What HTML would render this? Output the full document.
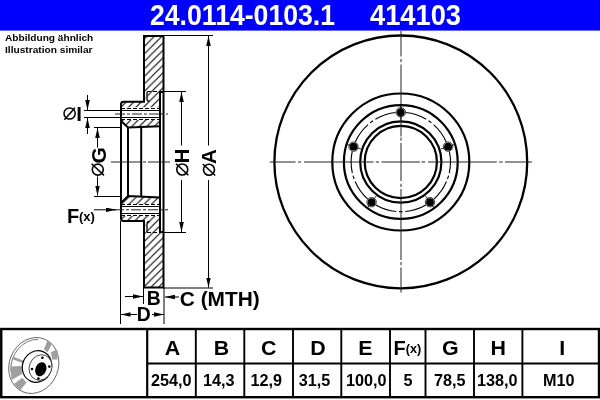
<!DOCTYPE html>
<html><head><meta charset="utf-8">
<style>
html,body{margin:0;padding:0;background:#fff;width:600px;height:400px;overflow:hidden}
svg{position:absolute;left:0;top:0;display:block;will-change:transform}
text{font-family:"Liberation Sans",sans-serif;font-weight:bold;fill:#000}
</style></head><body>
<svg width="600" height="400" viewBox="0 0 600 400">
<defs>
<pattern id="h" patternUnits="userSpaceOnUse" width="7.5" height="7.5" patternTransform="translate(3.25,0)">
<path d="M-1,1 L1,-1 M0,7.5 L7.5,0 M6.5,8.5 L8.5,6.5" stroke="#000" stroke-width="1.1"/>
</pattern>
<marker id="ar" viewBox="0 0 10 4.6" refX="10" refY="2.3" markerWidth="10" markerHeight="4.6" markerUnits="userSpaceOnUse" orient="auto">
<path d="M0,0 L10,2.3 L0,4.6 z" fill="#000"/>
</marker>
</defs>

<!-- header -->
<rect x="0" y="0" width="600" height="30.6" fill="#0000ff"/>
<text x="150" y="25" font-size="29.5" style="fill:#fff" textLength="185" lengthAdjust="spacingAndGlyphs">24.0114-0103.1</text>
<text x="370" y="25" font-size="29.5" style="fill:#fff" textLength="91" lengthAdjust="spacingAndGlyphs">414103</text>

<text x="5" y="41" font-size="9.5" textLength="88.3" lengthAdjust="spacingAndGlyphs">Abbildung ähnlich</text>
<text x="5" y="52.8" font-size="9.5" textLength="87.5" lengthAdjust="spacingAndGlyphs">Illustration similar</text>

<!-- ===== side view ===== -->
<g fill="none" stroke="#000">
<!-- hatched regions -->
<path d="M144,36 H163.5 V92 H160 V107.5 H121 V101.7 H144 Z" fill="url(#h)" stroke="none"/>
<path d="M121,120 H160 V126 L128,127 L121,121 Z" fill="url(#h)" stroke="none"/>
<path d="M121,203 L128,196 L160,197 V204 H121 Z" fill="url(#h)" stroke="none"/>
<path d="M121,216 H160 V232 H163.5 V287.5 H144 V221 H121 Z" fill="url(#h)" stroke="none"/>
<!-- white bands (thread areas) -->
<rect x="121" y="107.5" width="39" height="12.5" fill="#fff" stroke="none"/>
<rect x="121" y="204" width="39" height="12" fill="#fff" stroke="none"/>
<rect x="145.5" y="92.5" width="2" height="8.5" fill="#fff" stroke="none"/>
<rect x="145.5" y="222" width="2" height="9.5" fill="#fff" stroke="none"/>

<!-- thick outlines -->
<g stroke-width="2">
<path d="M144,36 H163.5 V287.5 H144 V221 H123.5 Q121,221 121,218.5 V104.2 Q121,101.7 123.5,101.7 H144 Z"/>
<path d="M160,92 H163.5 M160,92 V232 H163.5"/>
<path d="M121,121 L128,127.5 L160,126.2"/>
<path d="M121,203 L128,196 L160,197.5"/>
<path d="M128,127.5 V196 M141.2,127.5 V196"/>
</g>
<!-- fillet lines -->
<path d="M147,92 V99 Q147,101.2 149.5,101.2" stroke-width="1.3"/>
<path d="M147,232 V224 Q147,221.5 149.5,221.5" stroke-width="1.3"/>
<!-- hidden dashed -->
<g stroke-width="1" stroke-dasharray="4,2">
<path d="M147,91.5 H160 M147,232.5 H160"/>
<path d="M121,108.5 H160 M121,119.5 H160 M121,204.5 H160 M121,215.5 H160"/>
</g>
<!-- thread solid thin -->
<g stroke-width="1">
<path d="M84,110.5 H160 M84,117.5 H160 M121,206.5 H160 M121,213.5 H160"/>
<!-- extension lines -->
<path d="M163.5,35.5 H213 M163.5,288 H213 M163.5,91.5 H186 M163.5,232.5 H186"/>
<path d="M94,127.5 H121 M94,196.5 H121"/>
<path d="M120.5,221 V324 M164,287.5 V324 M143.5,287.5 V304"/>
</g>
<!-- center lines -->
<g stroke-width="1" stroke="#222">
<path d="M115,114 H168" stroke-dasharray="10,2,3,2"/>
<path d="M111,162 H170" stroke-dasharray="30,2,3,2"/>
<path d="M114,209.8 H168" stroke-dasharray="10,2,3,2"/>
</g>
<!-- dimension lines -->
<g stroke-width="1">
<path d="M208.5,145.5 V36" marker-end="url(#ar)"/>
<path d="M208.5,180 V287.5" marker-end="url(#ar)"/>
<path d="M181.5,145.5 V92" marker-end="url(#ar)"/>
<path d="M181.5,180 V232" marker-end="url(#ar)"/>
<path d="M97.5,147.5 V128" marker-end="url(#ar)"/>
<path d="M97.5,176.5 V195.5" marker-end="url(#ar)"/>
<path d="M87.5,95 V110" marker-end="url(#ar)"/>
<path d="M87.5,134 V118" marker-end="url(#ar)"/>
<path d="M94,209.8 H116" marker-end="url(#ar)"/>
<path d="M125,296.5 H143" marker-end="url(#ar)"/>
<path d="M179,297 H165" marker-end="url(#ar)"/>
<path d="M137,314.5 H120.5" marker-end="url(#ar)"/>
<path d="M152,314.5 H164" marker-end="url(#ar)"/>
</g>
</g>

<!-- labels side view -->
<g stroke="#000" fill="none" stroke-width="1.5">
<circle cx="69.6" cy="113.5" r="5.6"/>
<path d="M64.4,119.7 L75,107.8"/>
</g>
<text x="76.3" y="120.6" font-size="20.5">I</text>
<text x="67" y="223" font-size="20">F</text>
<text x="79" y="220.5" font-size="13">(x)</text>
<text x="146.8" y="304.8" font-size="19.5" textLength="14" lengthAdjust="spacingAndGlyphs">B</text>
<text x="136.8" y="320.8" font-size="19.5" textLength="14" lengthAdjust="spacingAndGlyphs">D</text>
<text x="179.8" y="305.6" font-size="19.8" textLength="80" lengthAdjust="spacingAndGlyphs">C (MTH)</text>

<!-- rotated labels -->
<g transform="translate(97.5,175) rotate(-90)">
<circle cx="5.4" cy="0.3" r="5.5" fill="none" stroke="#000" stroke-width="1.6"/>
<path d="M-0.4,6.5 L11.2,-5.9" stroke="#000" stroke-width="1.5"/>
<text x="11.6" y="8" font-size="21">G</text>
</g>
<g transform="translate(181.5,175) rotate(-90)">
<circle cx="5.5" cy="0.75" r="5.5" fill="none" stroke="#000" stroke-width="1.6"/>
<path d="M-0.3,6.95 L11.3,-5.45" stroke="#000" stroke-width="1.5"/>
<text x="11.7" y="7.65" font-size="20.2">H</text>
</g>
<g transform="translate(208.5,175) rotate(-90)">
<circle cx="5.25" cy="0.5" r="5.5" fill="none" stroke="#000" stroke-width="1.6"/>
<path d="M-0.55,6.7 L11.05,-5.7" stroke="#000" stroke-width="1.5"/>
<text x="11" y="7.5" font-size="20.6">A</text>
</g>

<!-- ===== front view ===== -->
<g fill="none" stroke="#000">
<circle cx="400.8" cy="161.9" r="126.4" stroke-width="2.3"/>
<circle cx="400.8" cy="162" r="68.5" stroke-width="2.2"/>
<circle cx="400.8" cy="162" r="56.9" stroke-width="2.2"/>
<circle cx="400.8" cy="162" r="40.6" stroke-width="2.2"/>
<circle cx="400.8" cy="162" r="36.1" stroke-width="2.2"/>
<g stroke-width="1" stroke="#222">
<path d="M269.75,162 H295.5 M298.2,162 H301.2 M304,162 H373.5 M375.8,162 H379 M381.5,162 H419.8 M421.5,162 H425.2 M428,162 H496.8 M499.2,162 H502.7 M505,162 H532"/>
<path d="M401,31 V56.5 M401,59 V62.2 M401,64.5 V136.5 M401,137.5 V140.7 M401,143 V181 M401,183.8 V187 M401,189 V260 M401,262 V265.2 M401,267.5 V292.5"/>
</g>
</g>
<g id="bc" fill="none" stroke="#000" stroke-width="1.1"><path d="M405.79,112.55 A49.70,49.70 0 0 1 426.26,119.32 M428.54,120.76 A49.70,49.70 0 0 1 431.45,122.88 M433.53,124.60 A49.70,49.70 0 0 1 446.29,141.97 M449.37,151.47 A49.70,49.70 0 0 1 449.26,173.02 M448.59,175.64 A49.70,49.70 0 0 1 447.48,179.06 M446.49,181.57 A49.70,49.70 0 0 1 433.90,199.07 M425.83,204.94 A49.70,49.70 0 0 1 405.29,211.50 M402.60,211.67 A49.70,49.70 0 0 1 399.00,211.67 M396.31,211.50 A49.70,49.70 0 0 1 375.77,204.94 M367.70,199.07 A49.70,49.70 0 0 1 355.11,181.57 M354.12,179.06 A49.70,49.70 0 0 1 353.01,175.64 M352.34,173.02 A49.70,49.70 0 0 1 352.23,151.47 M355.31,141.97 A49.70,49.70 0 0 1 368.07,124.60 M370.15,122.88 A49.70,49.70 0 0 1 373.06,120.76 M375.34,119.32 A49.70,49.70 0 0 1 395.81,112.55"/></g>
<g id="bolts"><circle cx="400.80" cy="112.30" r="4.7" fill="none" stroke="#333" stroke-width="1"/><circle cx="400.80" cy="112.30" r="3.9" fill="#000"/><path d="M400.80,120.30 L400.80,104.30" stroke="#000" stroke-width="0.8"/><circle cx="448.07" cy="146.64" r="4.7" fill="none" stroke="#333" stroke-width="1"/><circle cx="448.07" cy="146.64" r="3.9" fill="#000"/><path d="M440.46,149.11 L455.68,144.17" stroke="#000" stroke-width="0.8"/><circle cx="430.01" cy="202.21" r="4.7" fill="none" stroke="#333" stroke-width="1"/><circle cx="430.01" cy="202.21" r="3.9" fill="#000"/><path d="M425.31,195.74 L434.72,208.68" stroke="#000" stroke-width="0.8"/><circle cx="371.59" cy="202.21" r="4.7" fill="none" stroke="#333" stroke-width="1"/><circle cx="371.59" cy="202.21" r="3.9" fill="#000"/><path d="M376.29,195.74 L366.88,208.68" stroke="#000" stroke-width="0.8"/><circle cx="353.53" cy="146.64" r="4.7" fill="none" stroke="#333" stroke-width="1"/><circle cx="353.53" cy="146.64" r="3.9" fill="#000"/><path d="M361.14,149.11 L345.92,144.17" stroke="#000" stroke-width="0.8"/></g>

<!-- ===== table ===== -->
<g fill="none" stroke="#000">
<rect x="1.25" y="329" width="597.75" height="68.2" stroke-width="2.4"/>
<path d="M147.2,329 V397.2" stroke-width="2.2"/>
<path d="M195.8,329 V397.2 M244.3,329 V397.2 M293,329 V397.2 M341.3,329 V397.2 M390,329 V397.2 M425.5,329 V397.2 M474,329 V397.2 M522.4,329 V397.2 M147,363.5 H599" stroke-width="1.9"/>
</g>
<g font-size="20" text-anchor="middle">
<text x="172.5" y="354.7" textLength="15.45" lengthAdjust="spacingAndGlyphs">A</text>
<text x="221.5" y="354.7" textLength="15.45" lengthAdjust="spacingAndGlyphs">B</text>
<text x="268.7" y="354.7" textLength="15.45" lengthAdjust="spacingAndGlyphs">C</text>
<text x="317.9" y="354.7" textLength="15.45" lengthAdjust="spacingAndGlyphs">D</text>
<text x="365.5" y="354.7" textLength="14.27" lengthAdjust="spacingAndGlyphs">E</text>
<text x="450.4" y="354.7" textLength="16.65" lengthAdjust="spacingAndGlyphs">G</text>
<text x="498.3" y="354.7" textLength="15.45" lengthAdjust="spacingAndGlyphs">H</text>
<text x="562.2" y="354.7" textLength="5.95" lengthAdjust="spacingAndGlyphs">I</text>
</g>
<text x="393.5" y="354.7" font-size="20">F</text>
<text x="405.8" y="352.6" font-size="13" textLength="15.5" lengthAdjust="spacingAndGlyphs">(x)</text>
<g font-size="16.2" text-anchor="middle">
<text x="171.3" y="386.3">254,0</text>
<text x="218.8" y="386.3">14,3</text>
<text x="266.3" y="386.3">12,9</text>
<text x="314.4" y="386.3">31,5</text>
<text x="366.3" y="386.3">100,0</text>
<text x="408.1" y="386.3">5</text>
<text x="449.7" y="386.3">78,5</text>
<text x="497.3" y="386.3">138,0</text>
<text x="558.7" y="386.3">M10</text>
</g>

<!-- disc icon -->
<g id="icon">
<g fill="none" stroke="#555" stroke-width="0.8">
<ellipse cx="33.8" cy="365.5" rx="24.5" ry="28.5" transform="rotate(22 33.8 365.5)" fill="#fff"/>
<path d="M11,372 A23,27 22 0 1 38,339.5" />
</g>
<g fill="#9f9f9f" stroke="none">
<polygon points="47.3,340.6 52.1,343.2 47.6,352.2 43.9,349.6"/>
<polygon points="51,352 57.5,349.5 57.5,359.5 52,359.5"/>
<polygon points="10.5,366.5 21.5,366 22,374 11.5,380"/>
<polygon points="14,384 22.25,377.75 26.5,382.5 20,390.5"/>
<polygon points="12.9,356.5 24.5,361 23.5,363.5 12,359"/>
</g>
<ellipse cx="37" cy="366.5" rx="14.5" ry="16" transform="rotate(22 37 366.5)" fill="#fff" stroke="#000" stroke-width="1.2"/>
<ellipse cx="40.5" cy="367.5" rx="11.2" ry="13" transform="rotate(22 40.5 367.5)" fill="#fff" stroke="#333" stroke-width="0.8"/>
<ellipse cx="40.8" cy="369.2" rx="5.4" ry="7.2" transform="rotate(22 40.8 369.2)" fill="#000"/>
<circle cx="42.4" cy="357.8" r="1.3" fill="#000"/>
<circle cx="49.3" cy="366.6" r="1.3" fill="#000"/>
<circle cx="38.4" cy="378.6" r="1.3" fill="#000"/>
<circle cx="32" cy="369" r="1.3" fill="#000"/>
</g>
</svg>
</body></html>
